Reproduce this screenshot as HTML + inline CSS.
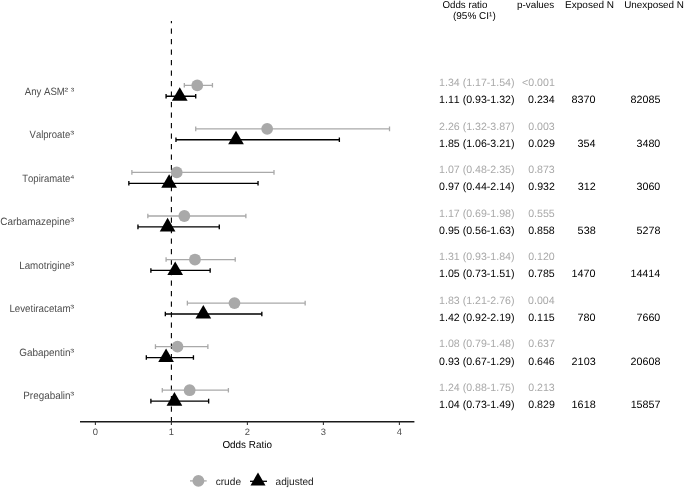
<!DOCTYPE html>
<html><head><meta charset="utf-8"><style>
html,body{margin:0;padding:0;background:#fff;}
svg{display:block;will-change:transform;}
text{font-family:"Liberation Sans", sans-serif;font-kerning:none;text-rendering:geometricPrecision;}
</style></head><body>
<svg width="685" height="488" viewBox="0 0 685 488">
<g>
<rect width="685" height="488" fill="#fff"/>
<line x1="171.40" y1="21.0" x2="171.40" y2="421.8" stroke="#000" stroke-width="1.1" stroke-dasharray="5.25 5.25" stroke-dashoffset="3.1"/>
<path d="M184.32 85.30H212.44M184.32 83.00V87.60M212.44 83.00V87.60" stroke="#A9A9A9" stroke-width="1.3" fill="none"/>
<circle cx="197.24" cy="85.30" r="5.9" fill="#A9A9A9"/>
<path d="M166.08 96.20H195.72M166.08 93.90V98.50M195.72 93.90V98.50" stroke="#000000" stroke-width="1.35" fill="none"/>
<polygon points="179.76,87.14 171.91,100.73 187.61,100.73" fill="#000000"/>
<path d="M195.72 128.86H389.52M195.72 126.56V131.16M389.52 126.56V131.16" stroke="#A9A9A9" stroke-width="1.3" fill="none"/>
<circle cx="267.16" cy="128.86" r="5.9" fill="#A9A9A9"/>
<path d="M175.96 139.76H339.36M175.96 137.46V142.06M339.36 137.46V142.06" stroke="#000000" stroke-width="1.35" fill="none"/>
<polygon points="236.00,130.70 228.15,144.29 243.85,144.29" fill="#000000"/>
<path d="M131.88 172.42H274.00M131.88 170.12V174.72M274.00 170.12V174.72" stroke="#A9A9A9" stroke-width="1.3" fill="none"/>
<circle cx="176.72" cy="172.42" r="5.9" fill="#A9A9A9"/>
<path d="M128.84 183.32H258.04M128.84 181.02V185.62M258.04 181.02V185.62" stroke="#000000" stroke-width="1.35" fill="none"/>
<polygon points="169.12,174.26 161.27,187.85 176.97,187.85" fill="#000000"/>
<path d="M147.84 215.98H245.88M147.84 213.68V218.28M245.88 213.68V218.28" stroke="#A9A9A9" stroke-width="1.3" fill="none"/>
<circle cx="184.32" cy="215.98" r="5.9" fill="#A9A9A9"/>
<path d="M137.96 226.88H219.28M137.96 224.58V229.18M219.28 224.58V229.18" stroke="#000000" stroke-width="1.35" fill="none"/>
<polygon points="167.60,217.82 159.75,231.41 175.45,231.41" fill="#000000"/>
<path d="M166.08 259.54H235.24M166.08 257.24V261.84M235.24 257.24V261.84" stroke="#A9A9A9" stroke-width="1.3" fill="none"/>
<circle cx="194.96" cy="259.54" r="5.9" fill="#A9A9A9"/>
<path d="M150.88 270.44H210.16M150.88 268.14V272.74M210.16 268.14V272.74" stroke="#000000" stroke-width="1.35" fill="none"/>
<polygon points="175.20,261.38 167.35,274.97 183.05,274.97" fill="#000000"/>
<path d="M187.36 303.10H305.16M187.36 300.80V305.40M305.16 300.80V305.40" stroke="#A9A9A9" stroke-width="1.3" fill="none"/>
<circle cx="234.48" cy="303.10" r="5.9" fill="#A9A9A9"/>
<path d="M165.32 314.00H261.84M165.32 311.70V316.30M261.84 311.70V316.30" stroke="#000000" stroke-width="1.35" fill="none"/>
<polygon points="203.32,304.94 195.47,318.53 211.17,318.53" fill="#000000"/>
<path d="M155.44 346.66H207.88M155.44 344.36V348.96M207.88 344.36V348.96" stroke="#A9A9A9" stroke-width="1.3" fill="none"/>
<circle cx="177.48" cy="346.66" r="5.9" fill="#A9A9A9"/>
<path d="M146.32 357.56H193.44M146.32 355.26V359.86M193.44 355.26V359.86" stroke="#000000" stroke-width="1.35" fill="none"/>
<polygon points="166.08,348.50 158.23,362.09 173.93,362.09" fill="#000000"/>
<path d="M162.28 390.22H228.40M162.28 387.92V392.52M228.40 387.92V392.52" stroke="#A9A9A9" stroke-width="1.3" fill="none"/>
<circle cx="189.64" cy="390.22" r="5.9" fill="#A9A9A9"/>
<path d="M150.88 401.12H208.64M150.88 398.82V403.42M208.64 398.82V403.42" stroke="#000000" stroke-width="1.35" fill="none"/>
<polygon points="174.44,392.06 166.59,405.65 182.29,405.65" fill="#000000"/>
<line x1="80" y1="421.8" x2="414.4" y2="421.8" stroke="#1a1a1a" stroke-width="1.4"/>
<line x1="95.40" y1="421.8" x2="95.40" y2="425.00" stroke="#333" stroke-width="1.1"/>
<line x1="171.40" y1="421.8" x2="171.40" y2="425.00" stroke="#333" stroke-width="1.1"/>
<line x1="247.40" y1="421.8" x2="247.40" y2="425.00" stroke="#333" stroke-width="1.1"/>
<line x1="323.40" y1="421.8" x2="323.40" y2="425.00" stroke="#333" stroke-width="1.1"/>
<line x1="399.40" y1="421.8" x2="399.40" y2="425.00" stroke="#333" stroke-width="1.1"/>
<line x1="190" y1="480.9" x2="206.7" y2="480.9" stroke="#A9A9A9" stroke-width="1.3"/>
<circle cx="198.4" cy="480.9" r="5.9" fill="#A9A9A9"/>
<line x1="250" y1="481.29999999999995" x2="267" y2="481.29999999999995" stroke="#000" stroke-width="1.3"/>
<polygon points="258.00,472.44 250.50,485.43 265.50,485.43" fill="#000000"/>
<text x="92.79" y="434.80" font-size="9.4" fill="#4D4D4D">0</text>
<text x="168.66" y="434.80" font-size="9.4" fill="#4D4D4D">1</text>
<text x="244.79" y="434.80" font-size="9.4" fill="#4D4D4D">2</text>
<text x="320.81" y="434.80" font-size="9.4" fill="#4D4D4D">3</text>
<text x="396.82" y="434.80" font-size="9.4" fill="#4D4D4D">4</text>
<text x="222.43" y="447.90" font-size="10.2" fill="#000" textLength="49.48" lengthAdjust="spacingAndGlyphs">Odds Ratio</text>
<text x="24.78" y="94.75" font-size="10.6" fill="#4D4D4D" textLength="40.07" lengthAdjust="spacingAndGlyphs">Any ASM</text>
<text x="64.58" y="93.55" font-size="9.0" fill="#4D4D4D" textLength="3.63" lengthAdjust="spacingAndGlyphs">²</text>
<text x="70.76" y="93.55" font-size="9.0" fill="#4D4D4D" textLength="3.44" lengthAdjust="spacingAndGlyphs">³</text>
<text x="29.59" y="138.26" font-size="10.6" fill="#4D4D4D" textLength="40.73" lengthAdjust="spacingAndGlyphs">Valproate</text>
<text x="70.35" y="137.06" font-size="9.0" fill="#4D4D4D" textLength="3.88" lengthAdjust="spacingAndGlyphs">³</text>
<text x="22.29" y="181.78" font-size="10.6" fill="#4D4D4D" textLength="48.04" lengthAdjust="spacingAndGlyphs">Topiramate</text>
<text x="70.03" y="180.58" font-size="9.0" fill="#4D4D4D" textLength="4.49" lengthAdjust="spacingAndGlyphs">⁴</text>
<text x="0.30" y="225.29" font-size="10.6" fill="#4D4D4D" textLength="70.04" lengthAdjust="spacingAndGlyphs">Carbamazepine</text>
<text x="70.35" y="224.09" font-size="9.0" fill="#4D4D4D" textLength="3.88" lengthAdjust="spacingAndGlyphs">³</text>
<text x="19.20" y="268.80" font-size="10.6" fill="#4D4D4D" textLength="51.14" lengthAdjust="spacingAndGlyphs">Lamotrigine</text>
<text x="70.35" y="267.60" font-size="9.0" fill="#4D4D4D" textLength="3.88" lengthAdjust="spacingAndGlyphs">³</text>
<text x="9.40" y="312.31" font-size="10.6" fill="#4D4D4D" textLength="61.14" lengthAdjust="spacingAndGlyphs">Levetiracetam</text>
<text x="70.35" y="311.12" font-size="9.0" fill="#4D4D4D" textLength="3.88" lengthAdjust="spacingAndGlyphs">³</text>
<text x="19.20" y="355.83" font-size="10.6" fill="#4D4D4D" textLength="51.34" lengthAdjust="spacingAndGlyphs">Gabapentin</text>
<text x="70.35" y="354.63" font-size="9.0" fill="#4D4D4D" textLength="3.88" lengthAdjust="spacingAndGlyphs">³</text>
<text x="23.29" y="399.34" font-size="10.6" fill="#4D4D4D" textLength="47.25" lengthAdjust="spacingAndGlyphs">Pregabalin</text>
<text x="70.35" y="398.14" font-size="9.0" fill="#4D4D4D" textLength="3.88" lengthAdjust="spacingAndGlyphs">³</text>
<text x="439.1" y="86.00" font-size="10.6" fill="#A9A9A9">1.34 (1.17-1.54)</text>
<text x="522.10" y="86.00" font-size="10.6" fill="#A9A9A9">&lt;0.001</text>
<text x="439.1" y="103.20" font-size="10.6" fill="#000">1.11 (0.93-1.32)</text>
<text x="528.08" y="103.20" font-size="10.6" fill="#000">0.234</text>
<text x="571.57" y="103.20" font-size="10.6" fill="#000" textLength="24.05" lengthAdjust="spacingAndGlyphs">8370</text>
<text x="630.58" y="103.20" font-size="10.6" fill="#000" textLength="29.77" lengthAdjust="spacingAndGlyphs">82085</text>
<text x="439.1" y="129.56" font-size="10.6" fill="#A9A9A9">2.26 (1.32-3.87)</text>
<text x="528.24" y="129.56" font-size="10.6" fill="#A9A9A9">0.003</text>
<text x="439.1" y="146.76" font-size="10.6" fill="#000">1.85 (1.06-3.21)</text>
<text x="528.28" y="146.76" font-size="10.6" fill="#000">0.029</text>
<text x="577.48" y="146.76" font-size="10.6" fill="#000" textLength="18.04" lengthAdjust="spacingAndGlyphs">354</text>
<text x="636.50" y="146.76" font-size="10.6" fill="#000" textLength="23.82" lengthAdjust="spacingAndGlyphs">3480</text>
<text x="439.1" y="173.12" font-size="10.6" fill="#A9A9A9">1.07 (0.48-2.35)</text>
<text x="528.24" y="173.12" font-size="10.6" fill="#A9A9A9">0.873</text>
<text x="439.1" y="190.32" font-size="10.6" fill="#000">0.97 (0.44-2.14)</text>
<text x="528.31" y="190.32" font-size="10.6" fill="#000">0.932</text>
<text x="577.70" y="190.32" font-size="10.6" fill="#000" textLength="18.04" lengthAdjust="spacingAndGlyphs">312</text>
<text x="636.50" y="190.32" font-size="10.6" fill="#000" textLength="23.82" lengthAdjust="spacingAndGlyphs">3060</text>
<text x="439.1" y="216.68" font-size="10.6" fill="#A9A9A9">1.17 (0.69-1.98)</text>
<text x="528.22" y="216.68" font-size="10.6" fill="#A9A9A9">0.555</text>
<text x="439.1" y="233.88" font-size="10.6" fill="#000">0.95 (0.56-1.63)</text>
<text x="528.23" y="233.88" font-size="10.6" fill="#000">0.858</text>
<text x="577.63" y="233.88" font-size="10.6" fill="#000" textLength="18.04" lengthAdjust="spacingAndGlyphs">538</text>
<text x="636.55" y="233.88" font-size="10.6" fill="#000" textLength="23.82" lengthAdjust="spacingAndGlyphs">5278</text>
<text x="439.1" y="260.24" font-size="10.6" fill="#A9A9A9">1.31 (0.93-1.84)</text>
<text x="528.19" y="260.24" font-size="10.6" fill="#A9A9A9">0.120</text>
<text x="439.1" y="277.44" font-size="10.6" fill="#000">1.05 (0.73-1.51)</text>
<text x="528.22" y="277.44" font-size="10.6" fill="#000">0.785</text>
<text x="571.57" y="277.44" font-size="10.6" fill="#000" textLength="24.05" lengthAdjust="spacingAndGlyphs">1470</text>
<text x="630.44" y="277.44" font-size="10.6" fill="#000" textLength="29.77" lengthAdjust="spacingAndGlyphs">14414</text>
<text x="439.1" y="303.80" font-size="10.6" fill="#A9A9A9">1.83 (1.21-2.76)</text>
<text x="528.08" y="303.80" font-size="10.6" fill="#A9A9A9">0.004</text>
<text x="439.1" y="321.00" font-size="10.6" fill="#000">1.42 (0.92-2.19)</text>
<text x="528.22" y="321.00" font-size="10.6" fill="#000">0.115</text>
<text x="577.58" y="321.00" font-size="10.6" fill="#000" textLength="18.04" lengthAdjust="spacingAndGlyphs">780</text>
<text x="636.50" y="321.00" font-size="10.6" fill="#000" textLength="23.82" lengthAdjust="spacingAndGlyphs">7660</text>
<text x="439.1" y="347.36" font-size="10.6" fill="#A9A9A9">1.08 (0.79-1.48)</text>
<text x="528.31" y="347.36" font-size="10.6" fill="#A9A9A9">0.637</text>
<text x="439.1" y="364.56" font-size="10.6" fill="#000">0.93 (0.67-1.29)</text>
<text x="528.24" y="364.56" font-size="10.6" fill="#000">0.646</text>
<text x="571.62" y="364.56" font-size="10.6" fill="#000" textLength="24.05" lengthAdjust="spacingAndGlyphs">2103</text>
<text x="630.59" y="364.56" font-size="10.6" fill="#000" textLength="29.77" lengthAdjust="spacingAndGlyphs">20608</text>
<text x="439.1" y="390.92" font-size="10.6" fill="#A9A9A9">1.24 (0.88-1.75)</text>
<text x="528.24" y="390.92" font-size="10.6" fill="#A9A9A9">0.213</text>
<text x="439.1" y="408.12" font-size="10.6" fill="#000">1.04 (0.73-1.49)</text>
<text x="528.28" y="408.12" font-size="10.6" fill="#000">0.829</text>
<text x="571.62" y="408.12" font-size="10.6" fill="#000" textLength="24.05" lengthAdjust="spacingAndGlyphs">1618</text>
<text x="630.67" y="408.12" font-size="10.6" fill="#000" textLength="29.77" lengthAdjust="spacingAndGlyphs">15857</text>
<text x="442.49" y="8.00" font-size="9.9" fill="#000" textLength="44.82" lengthAdjust="spacingAndGlyphs">Odds ratio</text>
<text x="452.98" y="18.90" font-size="9.9" fill="#000" textLength="42.74" lengthAdjust="spacingAndGlyphs">(95% CI¹)</text>
<text x="516.96" y="8.00" font-size="9.9" fill="#000" textLength="37.29" lengthAdjust="spacingAndGlyphs">p-values</text>
<text x="565.08" y="8.00" font-size="9.9" fill="#000" textLength="48.94" lengthAdjust="spacingAndGlyphs">Exposed N</text>
<text x="624.14" y="8.00" font-size="9.9" fill="#000">Unexposed N</text>
<text x="215.67" y="484.70" font-size="10.3" fill="#1a1a1a" textLength="25.38" lengthAdjust="spacingAndGlyphs">crude</text>
<text x="275.57" y="484.70" font-size="10.3" fill="#1a1a1a" textLength="38.18" lengthAdjust="spacingAndGlyphs">adjusted</text>
</g>
</svg>
</body></html>
